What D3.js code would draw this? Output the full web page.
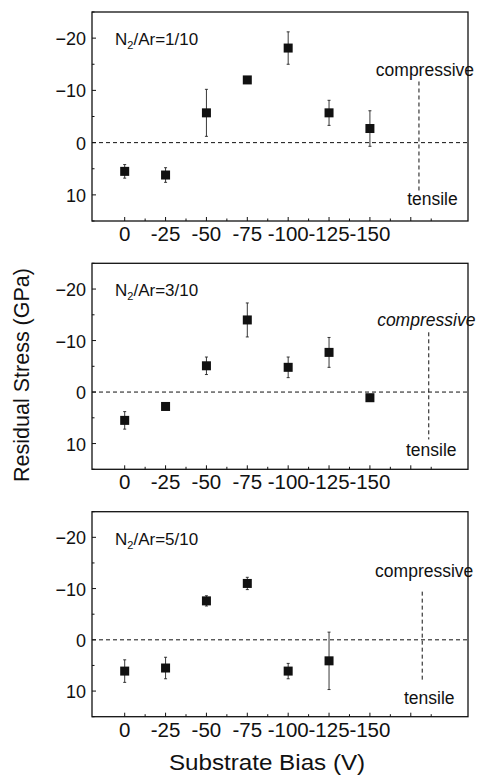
<!DOCTYPE html>
<html><head><meta charset="utf-8">
<script src="https://cdn.jsdelivr.net/npm/d3@7"></script>
<style>body{margin:0;background:#fff}svg{display:block}text{font-family:"Liberation Sans",Arial,sans-serif;fill:#111}</style>
</head><body>
<script>
const biasTicks = [0, -25, -50, -75, -100, -125, -150];
const stressTicks = [-20, -10, 0, 10];
const panelLabels = ["1/10", "3/10", "5/10"];
const bias = [0, -25, -50, -75, -100, -125, -150];
const stress1 = [5.5, 6.2, -5.7, -12.0, -18.1, -5.7, -2.7];
const err1 = [1.3, 1.4, 4.5, 0.4, 3.1, 2.4, 3.4];
const stress2 = [5.5, 2.8, -5.1, -14.0, -4.8, -7.7, 1.1];
const err2 = [1.7, 0.6, 1.7, 3.3, 2.0, 2.9, 0.6];
const stress3 = [6.1, 5.5, -7.6, -11.0, 6.1, 4.1, null];
const err3 = [2.2, 2.1, 1.0, 1.2, 1.5, 5.6, null];
const dividerBias = [-180, -186, -182];
const dividerRange = [[-11.7, 9.4], [-11.6, 9.2], [-9.4, 8.3]];
const compressiveItalic = [false, true, false];

const W = 479, H = 776;
const svg = d3.select("body").append("svg").attr("width", W).attr("height", H);
const left = 92, right = 468;
const tops = [12, 263.3, 511.7], heights = [209, 206, 205];
// text layout (pixel offsets)
const compDX = [6, -2.5, 2], compDY = [-5, -6, -15];
const tensDX = [13.5, 2.5, 7], tensDY = [13, 17, 22];
const x = d3.scaleLinear().domain([20, -210]).range([left, right]);
const series = [stress1, stress2, stress3], errs = [err1, err2, err3];
const fmtY = d => (d < 0 ? "\u2212" + Math.abs(d) : String(d));

series.forEach((vals, p) => {
  const top = tops[p], h = heights[p];
  const y = d3.scaleLinear().domain([-25, 15]).range([top, top + h]);
  const g = svg.append("g");
  g.append("rect").attr("x", left).attr("y", top).attr("width", right - left).attr("height", h)
    .attr("fill", "none").attr("stroke", "#111").attr("stroke-width", 1.3);
  d3.range(0, -200, -12.5).forEach(v => {
    const major = Math.abs(v % 25) < 1e-6;
    g.append("line").attr("x1", x(v)).attr("x2", x(v)).attr("y1", top + h).attr("y2", top + h - (major ? 4 : 2.5))
      .attr("stroke", "#111").attr("stroke-width", 1);
  });
  g.selectAll(".xl").data(biasTicks).enter().append("text")
    .attr("x", d => x(d)).attr("y", top + h + 20).attr("text-anchor", "middle")
    .attr("font-size", 20.5).text(d => d);
  d3.range(-25, 16, 5).forEach(v => {
    const major = v % 10 === 0;
    g.append("line").attr("x1", left).attr("x2", left + (major ? 4 : 2.5)).attr("y1", y(v)).attr("y2", y(v))
      .attr("stroke", "#111").attr("stroke-width", 1);
  });
  g.selectAll(".yl").data(stressTicks).enter().append("text")
    .attr("x", left - 6).attr("y", d => y(d) + 7).attr("text-anchor", "end")
    .attr("font-size", 18).text(fmtY);
  g.append("line").attr("x1", left).attr("x2", right).attr("y1", y(0)).attr("y2", y(0))
    .attr("stroke", "#111").attr("stroke-width", 1).attr("stroke-dasharray", "4,3");
  const dx = x(dividerBias[p]);
  g.append("line").attr("x1", dx).attr("x2", dx)
    .attr("y1", y(dividerRange[p][0])).attr("y2", y(dividerRange[p][1]))
    .attr("stroke", "#111").attr("stroke-width", 1).attr("stroke-dasharray", "4,3");
  g.append("text").attr("x", dx + compDX[p]).attr("y", y(dividerRange[p][0]) + compDY[p])
    .attr("text-anchor", "middle").attr("font-size", 17.5)
    .attr("font-style", compressiveItalic[p] ? "italic" : "normal").text("compressive");
  g.append("text").attr("x", dx + tensDX[p]).attr("y", y(dividerRange[p][1]) + tensDY[p])
    .attr("text-anchor", "middle").attr("font-size", 17.5).text("tensile");
  const lab = g.append("text").attr("x", left + 23).attr("y", top + 33).attr("font-size", 17);
  lab.append("tspan").text("N");
  lab.append("tspan").attr("dy", 4).attr("font-size", 11).text("2");
  lab.append("tspan").attr("dy", -4).text("/Ar=" + panelLabels[p]);
  const pts = bias.map((b, i) => ({b, v: vals[i], e: errs[p][i]})).filter(d => d.v !== null);
  g.selectAll(".eb").data(pts).enter().append("line")
    .attr("x1", d => x(d.b)).attr("x2", d => x(d.b))
    .attr("y1", d => y(d.v - d.e)).attr("y2", d => y(d.v + d.e))
    .attr("stroke", "#222").attr("stroke-width", 0.9);
  pts.forEach(d => {
    [d.v - d.e, d.v + d.e].forEach(e => {
      g.append("line").attr("x1", x(d.b) - 1.5).attr("x2", x(d.b) + 1.5).attr("y1", y(e)).attr("y2", y(e))
        .attr("stroke", "#222").attr("stroke-width", 0.9);
    });
  });
  g.selectAll(".pt").data(pts).enter().append("rect")
    .attr("x", d => x(d.b) - 4.5).attr("y", d => y(d.v) - 4.5).attr("width", 9).attr("height", 9)
    .attr("fill", "#111");
});

svg.append("text").attr("transform", "translate(267,770) scale(1.1,1)").attr("text-anchor", "middle")
  .attr("font-size", 22).text("Substrate Bias (V)");
svg.append("text").attr("transform", "translate(29,375) rotate(-90)").attr("text-anchor", "middle")
  .attr("font-size", 21.5).text("Residual Stress (GPa)");
</script>
</body></html>
